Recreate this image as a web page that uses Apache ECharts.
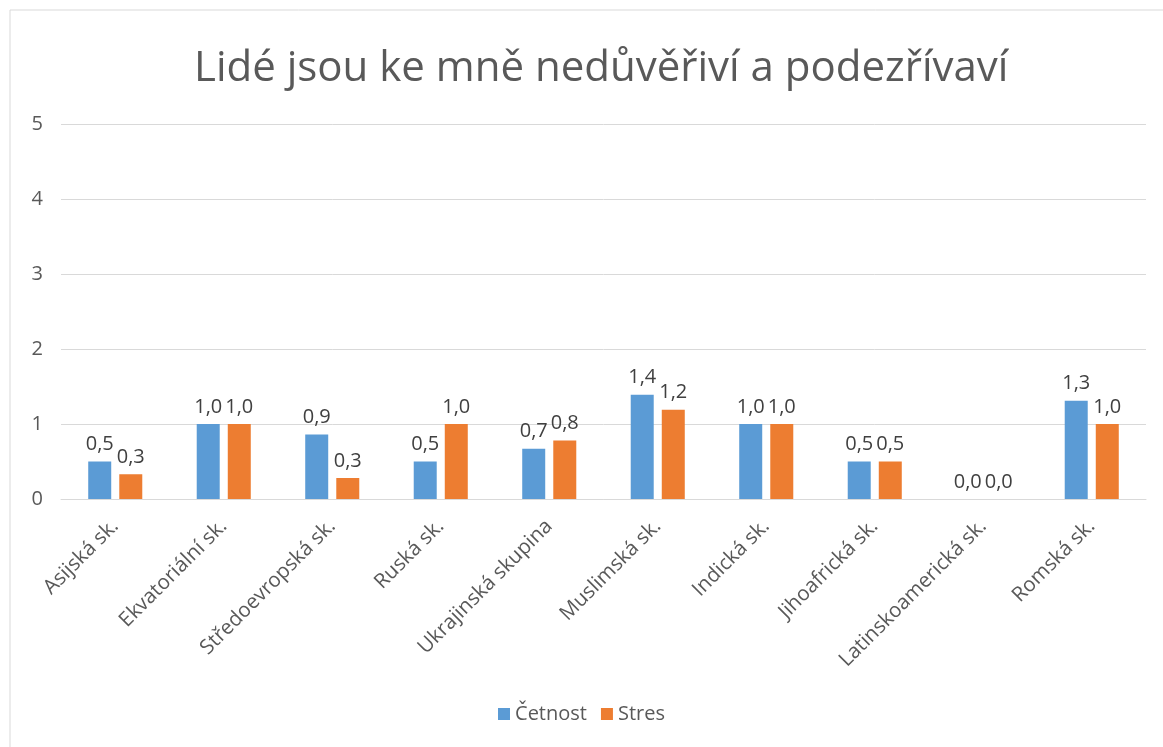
<!DOCTYPE html>
<html>
<head>
<meta charset="utf-8">
<script src="https://cdn.jsdelivr.net/npm/echarts@6/dist/echarts.min.js"></script>
<style>
  html, body { margin: 0; padding: 0; background: #fff; }
  #chart { width: 1163px; height: 747px; }
</style>
</head>
<body>
<div id="chart"></div>
<script>
const categories = [
  "Asijská sk.", "Ekvatoriální sk.", "Středoevropská sk.", "Ruská sk.", "Ukrajinská skupina",
  "Muslimská sk.", "Indická sk.", "Jihoafrická sk.", "Latinskoamerická sk.", "Romská sk."
];
const cetnost = [0.5, 1.0, 0.86, 0.5, 0.67, 1.39, 1.0, 0.5, 0.0, 1.31];
const stres = [0.33, 1.0, 0.28, 1.0, 0.78, 1.19, 1.0, 0.5, 0.0, 1.0];
const yTicks = [0, 1, 2, 3, 4, 5];

const chart = echarts.init(document.getElementById("chart"));
const font = "'Open Sans', 'Noto Sans', sans-serif";

function fmt(p) {
  return p.value.toFixed(1).replace(".", ",");
}

const labelStyle = {
  show: true,
  position: "top",
  distance: 7,
  formatter: fmt,
  color: "#404040",
  fontSize: 20,
  fontFamily: font
};

chart.setOption({
  animation: false,
  textStyle: { fontFamily: font },
  graphic: [{
    type: "rect",
    shape: { x: 10, y: 10, width: 1200, height: 800 },
    style: { fill: "none", stroke: "#d9d9d9", lineWidth: 1 },
    silent: true
  }],
  title: {
    text: "Lidé jsou ke mně nedůvěřiví a podezřívaví",
    left: 189,
    top: 43,
    textStyle: { color: "#595959", fontSize: 42, fontWeight: "normal", fontFamily: font }
  },
  legend: {
    bottom: 18,
    left: "center",
    itemWidth: 12,
    itemHeight: 12,
    itemGap: 14,
    icon: "rect",
    textStyle: { color: "#595959", fontSize: 20, fontFamily: font },
    data: ["Četnost", "Stres"]
  },
  grid: { left: 61, right: 17, top: 124, bottom: 248, containLabel: false },
  xAxis: {
    type: "category",
    data: categories,
    axisLine: { show: true, lineStyle: { color: "#d9d9d9" } },
    axisTick: { show: false },
    axisLabel: { rotate: 45, color: "#595959", fontSize: 20.5, margin: 24, interval: 0, fontFamily: font }
  },
  yAxis: {
    type: "value",
    min: yTicks[0],
    max: yTicks[yTicks.length - 1],
    interval: 1,
    axisLine: { show: false },
    axisTick: { show: false },
    axisLabel: { color: "#595959", fontSize: 20, margin: 18, fontFamily: font },
    splitLine: { lineStyle: { color: "#d9d9d9", width: 1 } }
  },
  series: [
    {
      name: "Četnost",
      type: "bar",
      data: cetnost,
      barWidth: 23,
      barGap: "35%",
      itemStyle: { color: "#5b9bd5" },
      label: labelStyle
    },
    {
      name: "Stres",
      type: "bar",
      data: stres,
      barWidth: 23,
      itemStyle: { color: "#ed7d31" },
      label: labelStyle
    }
  ]
});
</script>
</body>
</html>
